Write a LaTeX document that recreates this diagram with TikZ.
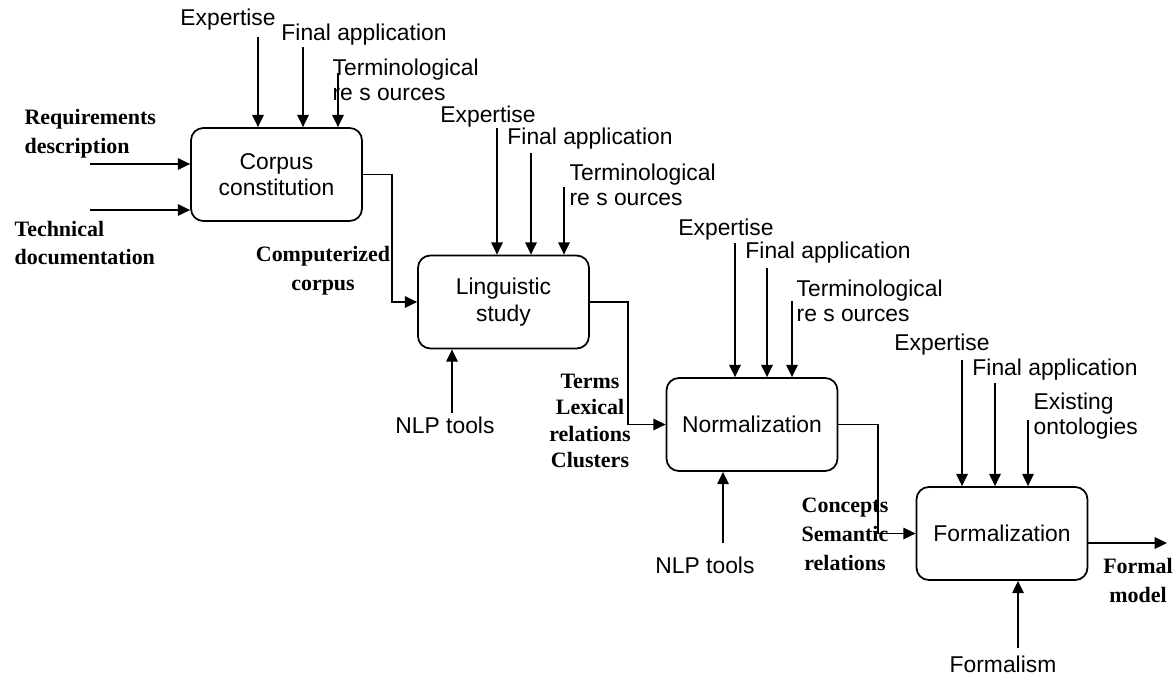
\documentclass[tikz,border=0pt]{standalone}
\usepackage{fontspec}
\setmainfont{Liberation Sans}
\newfontfamily\flowfont{Liberation Serif}
\usetikzlibrary{arrows.meta}

\begin{document}
\begin{tikzpicture}[x=0.02cm,y=-0.02cm,>={Triangle[length=7pt,width=6.5pt]},line width=1pt,
                    activity/.style={draw,rounded corners=7pt,minimum width=3.42cm,minimum height=1.86cm,
                                     align=center,font=\fontsize{13}{15}\selectfont},
                    ctrl/.style={inner sep=1pt,align=left,font=\fontsize{13}{14}\selectfont},
                    flow/.style={inner sep=1pt,align=center,font=\flowfont\bfseries\fontsize{12.5}{16.5}\selectfont}]
  \useasboundingbox (0,0) rectangle (1176,677);

  % the four activities
  \node[activity] (corpus) at (276.5,174.5) {Corpus\\constitution};
  \node[activity] (ling)   at (503.5,302)   {Linguistic\\study};
  \node[activity] (norm)   at (752,424.5)   {Normalization};
  \node[activity] (formal) at (1002,533.5)  {Formalization};

  % controls
  \node[ctrl] (exp1) at (228,20)  {Expertise};
  \node[ctrl] (app1) at (364,35)  {Final application};
  \node[ctrl,anchor=west] (term1) at (330,80) {Terminological\\re s ources};
  \node[ctrl] (exp2) at (488,117) {Expertise};
  \node[ctrl] (app2) at (590,139) {Final application};
  \node[ctrl,anchor=west] (term2) at (567,185) {Terminological\\re s ources};
  \node[ctrl] (exp3) at (726,230) {Expertise};
  \node[ctrl] (app3) at (828,253) {Final application};
  \node[ctrl,anchor=west] (term3) at (794,301) {Terminological\\re s ources};
  \node[ctrl] (exp4) at (942,345) {Expertise};
  \node[ctrl] (app4) at (1055,370) {Final application};
  \node[ctrl,anchor=west] (onto) at (1031,416) {Existing\\ontologies};

  % mechanisms
  \node[ctrl] (nlp1) at (445,425) {NLP tools};
  \node[ctrl] (nlp2) at (705,565) {NLP tools};
  \node[ctrl] (fsm)  at (1003,664) {Formalism};

  % inputs and outputs
  \node[flow,anchor=west,align=left] (req)  at (22,134) {Requirements\\description};
  \node[flow,anchor=west,align=left] (tech) at (12,243) {Technical\\documentation};
  \node[flow] (cc)     at (323,271) {Computerized\\corpus};
  \node[flow,font=\flowfont\bfseries\fontsize{12.5}{15}\selectfont] (terms) at (590,421)
        {Terms\\Lexical\\relations\\Clusters};
  \node[flow] (conc)   at (845,534) {Concepts\\Semantic\\relations};
  \node[flow] (fmodel) at (1138,580) {Formal\\model};

  % control arrows
  \foreach \x/\y/\b in {258/37/corpus,303/47/corpus,338/73/corpus,
                        497/128/ling,531/153/ling,564/187/ling,
                        735/243/norm,767/268/norm,792/301/norm,
                        962/360/formal,995/383/formal,1028/420/formal}{
    \coordinate (c\x) at (\x,\y);
    \draw[->] (c\x) -- (c\x |- \b.north);
  }

  % mechanism arrows
  \coordinate (m1) at (452,413);
  \coordinate (m2) at (723,543);
  \coordinate (m3) at (1018,648);
  \draw[->] (m1) -- (m1 |- ling.south);
  \draw[->] (m2) -- (m2 |- norm.south);
  \draw[->] (m3) -- (m3 |- formal.south);

  % flow between activities
  \coordinate (reqin)  at (90,164);
  \coordinate (techin) at (90,210);
  \coordinate (out)    at (1167,543);
  \draw[->] (reqin) -- (reqin -| corpus.west);
  \draw[->] (techin) -- (techin -| corpus.west);
  \draw[->] (corpus.east) -- ++(29,0) |- (ling.west);
  \draw[->] (ling.east) -- ++(38,0) |- (norm.west);
  \draw[->] (norm.east) -- ++(40,0) |- (formal.west);
  \draw[->] (out -| formal.east) -- (out);
\end{tikzpicture}
\end{document}
